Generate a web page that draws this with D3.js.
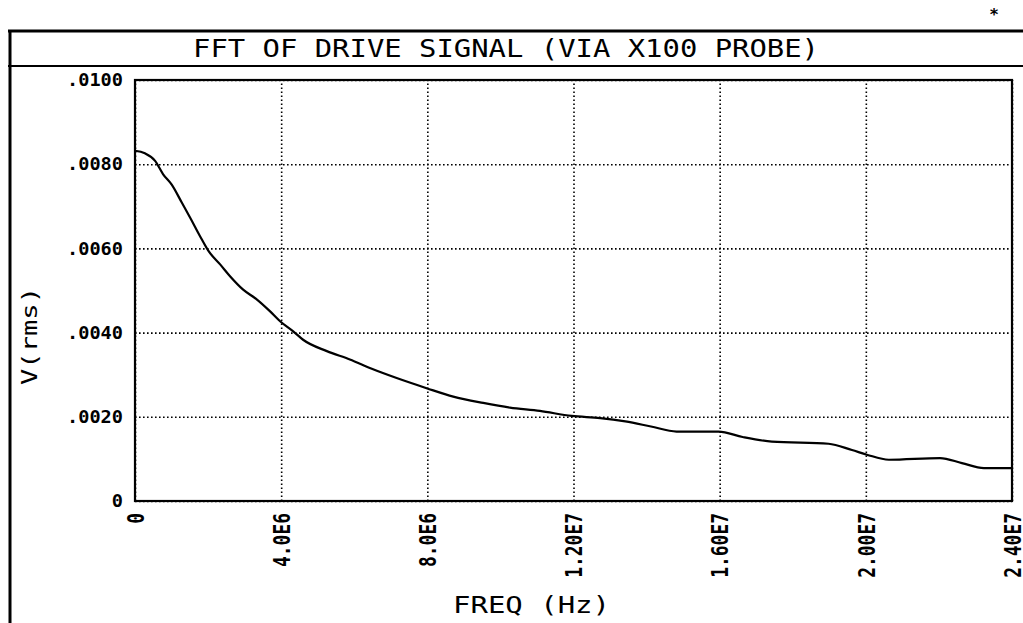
<!DOCTYPE html>
<html><head><meta charset="utf-8">
<script src="https://cdn.jsdelivr.net/npm/d3@7"></script>
<style>html,body{margin:0;padding:0;background:#fff;overflow:hidden}</style>
</head><body>
<svg id="c" width="1023" height="623"></svg>
<script>
const title = "FFT OF DRIVE SIGNAL (VIA X100 PROBE)";
const xLabel = "FREQ (Hz)";
const yLabel = "V(rms)";
const xTicks = [0, 4e6, 8e6, 1.2e7, 1.6e7, 2.0e7, 2.4e7];
const xTickLabels = ["0", "4.0E6", "8.0E6", "1.20E7", "1.60E7", "2.00E7", "2.40E7"];
const yTicks = [0, 0.002, 0.004, 0.006, 0.008, 0.010];
const yTickLabels = ["0", ".0020", ".0040", ".0060", ".0080", ".0100"];
const freqMHz = [0, 0.27, 0.55, 0.77, 1.00, 1.28, 1.51, 1.78, 2.01, 2.33, 2.60, 2.96, 3.33, 3.69, 3.97, 4.33, 4.60,
  5.25, 5.88, 6.48, 7.16, 7.98, 8.71, 9.53, 10.26, 11.08, 11.95, 12.73, 13.42, 14.12, 14.82, 15.97, 16.63,
  17.43, 18.98, 19.62, 20.03, 20.63, 22.03, 22.63, 23.23, 24.0];
const vrms = [0.00832, 0.00826, 0.00808, 0.00776, 0.00752, 0.00709, 0.00673, 0.00629, 0.00594, 0.00562, 0.00534,
  0.00502, 0.00479, 0.00451, 0.00427, 0.00403, 0.00383, 0.00356, 0.00336, 0.00314, 0.00292, 0.00268, 0.00248,
  0.00233, 0.00222, 0.00214, 0.00202, 0.00197, 0.00189, 0.00177, 0.00165, 0.00165, 0.00152, 0.00141, 0.00136,
  0.00121, 0.00110, 0.00098, 0.00102, 0.00090, 0.00078, 0.00078];

const MONO = "'DejaVu Sans Mono', 'Liberation Mono', monospace";
const svg = d3.select("#c");
const L = 135, R = 1012, T = 80, B = 501;
const x = d3.scaleLinear().domain([0, 2.4e7]).range([L, R]);
const y = d3.scaleLinear().domain([0, 0.01]).range([B, T]);

// outer frame
svg.append("line").attr("x1", 8).attr("x2", 1023).attr("y1", 31).attr("y2", 31).attr("stroke", "#000").attr("stroke-width", 3);
svg.append("line").attr("x1", 8).attr("x2", 1023).attr("y1", 66).attr("y2", 66).attr("stroke", "#000").attr("stroke-width", 2);
svg.append("line").attr("x1", 10).attr("x2", 10).attr("y1", 30).attr("y2", 623).attr("stroke", "#000").attr("stroke-width", 3);

// asterisk
svg.append("text").attr("x", 994).attr("y", 20).attr("text-anchor", "middle")
  .attr("font-family", MONO).attr("font-size", 16).attr("font-weight", "bold").text("*");

// title
svg.append("text").attr("x", 193).attr("y", 57).attr("font-family", MONO).attr("font-size", 25)
  .attr("textLength", 626).attr("lengthAdjust", "spacingAndGlyphs").text(title);

// gridlines
const gx = svg.append("g").attr("transform", `translate(0,${B})`)
  .call(d3.axisBottom(x).tickValues(xTicks).tickSize(-(B - T)).tickFormat(""));
gx.select(".domain").remove();
gx.selectAll("line").attr("stroke", "#000").attr("stroke-width", 1.6).attr("stroke-dasharray", "1.6,2.4");
const gy = svg.append("g").attr("transform", `translate(${L},0)`)
  .call(d3.axisLeft(y).tickValues(yTicks).tickSize(-(R - L)).tickFormat(""));
gy.select(".domain").remove();
gy.selectAll("line").attr("stroke", "#000").attr("stroke-width", 1.6).attr("stroke-dasharray", "1.6,2.4");

// plot frame
svg.append("rect").attr("x", L).attr("y", T).attr("width", R - L).attr("height", B - T)
  .attr("fill", "none").attr("stroke", "#000").attr("stroke-width", 2.2);

// y tick labels
const yAx = svg.append("g").attr("transform", `translate(${L},0)`)
  .call(d3.axisLeft(y).tickValues(yTicks).tickSize(0).tickPadding(12)
    .tickFormat((d, i) => yTickLabels[i]));
yAx.select(".domain").remove();
yAx.selectAll("text").attr("font-family", MONO).attr("font-size", 18).attr("font-weight", "bold")
  .attr("fill", "#000")
  .attr("textLength", (d, i) => yTickLabels[i].length * 11.2).attr("lengthAdjust", "spacingAndGlyphs");

// x tick labels (rotated)
const xAx = svg.append("g").attr("transform", `translate(0,${B})`)
  .call(d3.axisBottom(x).tickValues(xTicks).tickSize(0).tickFormat((d, i) => xTickLabels[i]));
xAx.select(".domain").remove();
xAx.selectAll("text").attr("font-family", MONO).attr("font-size", 23).attr("font-weight", "bold")
  .attr("fill", "#000").attr("text-anchor", "end")
  .attr("y", 0).attr("dy", "0.36em")
  .attr("transform", "translate(0,12) rotate(-90)")
  .attr("textLength", (d, i) => xTickLabels[i].length * 10.8).attr("lengthAdjust", "spacingAndGlyphs");

// axis titles
svg.append("text").attr("x", 453).attr("y", 613).attr("font-family", MONO).attr("font-size", 23)
  .attr("textLength", 157).attr("lengthAdjust", "spacingAndGlyphs").text(xLabel);
svg.append("text").attr("transform", "translate(37,336) rotate(-90)").attr("text-anchor", "middle")
  .attr("font-family", MONO).attr("font-size", 21)
  .attr("textLength", 98).attr("lengthAdjust", "spacingAndGlyphs").text(yLabel);

// curve
const data = freqMHz.map((f, i) => [f * 1e6, vrms[i]]);
svg.append("path").datum(data)
  .attr("d", d3.line().x(d => x(d[0])).y(d => y(d[1])).curve(d3.curveMonotoneX))
  .attr("fill", "none").attr("stroke", "#000").attr("stroke-width", 2.2);
</script>
</body></html>
